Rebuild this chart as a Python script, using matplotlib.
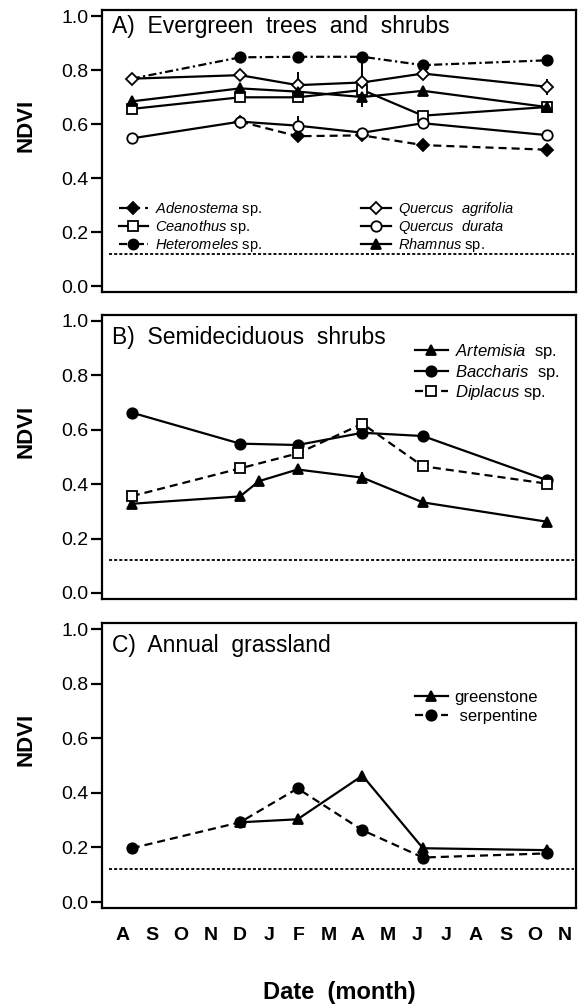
import numpy as np
import matplotlib
matplotlib.use('Agg')
import matplotlib.pyplot as plt
from matplotlib.lines import Line2D

plt.rcParams['font.family'] = ['Liberation Sans', 'DejaVu Sans']
plt.rcParams['mathtext.fontset'] = 'custom'
plt.rcParams['mathtext.rm'] = 'Liberation Sans'
plt.rcParams['mathtext.it'] = 'Liberation Sans:italic'
plt.rcParams['lines.scale_dashes'] = False

# month axis: A S O N D J F M A M J J A S O N  (0 = August)
months = ['A', 'S', 'O', 'N', 'D', 'J', 'F', 'M', 'A', 'M', 'J', 'J', 'A', 'S', 'O', 'N']
dates = [0.33, 4.0, 5.95, 8.15, 10.2, 14.4]
dates_art = [0.33, 4.0, 4.64, 5.95, 8.15, 10.2, 14.4]
soil_ndvi = 0.12

# A) evergreen trees and shrubs
adenostema = [np.nan, 0.609, 0.555, 0.558, 0.522, 0.505]
ceanothus = [0.656, 0.699, 0.699, 0.726, 0.631, 0.663]
heteromeles = [0.768, 0.847, 0.849, 0.849, 0.818, 0.836]
q_agrifolia = [0.768, 0.781, 0.744, 0.754, 0.787, 0.738]
q_agrifolia_err = [0, 0, 0.05, 0.09, 0, 0.03]
q_durata = [0.547, 0.609, 0.594, 0.568, 0.603, 0.559]
q_durata_err = [0, 0, 0.035, 0, 0, 0]
rhamnus = [0.684, 0.732, 0.72, 0.70, 0.723, 0.663]
rhamnus_err = [0, 0, 0, 0.025, 0, 0]

# B) semideciduous shrubs
artemisia = [0.328, 0.355, 0.411, 0.454, 0.424, 0.333, 0.262]
artemisia_err = [0, 0, 0, 0, 0.02, 0, 0]
baccharis = [0.663, 0.549, 0.544, 0.589, 0.577, 0.415]
diplacus = [0.356, 0.458, 0.513, 0.622, 0.466, 0.402]

# C) annual grassland
greenstone = [np.nan, 0.292, 0.303, 0.463, 0.197, 0.19]
serpentine = [0.197, 0.292, 0.416, 0.263, 0.163, 0.178]

DASH = (0, (5.8, 3.6))
DASHDOT = (0, (5.8, 2.4, 1.6, 2.4))
DOT = (0, (2.2, 1.5))
LW = 1.6
MS = 7.5

fig = plt.figure(figsize=(5.84, 10.06), dpi=100)
left, width = 0.1747, 0.8116
axA = fig.add_axes([left, 0.7097, width, 0.2803])
axB = fig.add_axes([left, 0.4046, width, 0.2823])
axC = fig.add_axes([left, 0.0974, width, 0.2833])


def style_axes(ax, title, title_y=0.92, show_x=False):
    ax.set_xlim(-0.68, 15.39)
    ax.set_ylim(-0.022, 1.022)
    ax.set_yticks(np.arange(0, 1.01, 0.2))
    ax.set_yticklabels([f'{v:.1f}' for v in np.arange(0, 1.01, 0.2)])
    ax.tick_params(axis='y', direction='out', length=8, width=1.6, labelsize=14, pad=2)
    ax.set_xticks(range(len(months)))
    if show_x:
        ax.set_xticklabels(months, fontsize=14, fontweight='bold')
    else:
        ax.set_xticklabels([])
    ax.tick_params(axis='x', length=0, pad=14)
    for s in ax.spines.values():
        s.set_linewidth(1.6)
    ax.set_ylabel('NDVI', fontsize=16, fontweight='bold')
    ax.yaxis.set_label_coords(-0.138, 0.59)
    ax.text(0.022, title_y, title, transform=ax.transAxes, fontsize=16.5, va='center', ha='left')
    ax.axhline(soil_ndvi, xmin=0.015, xmax=0.995, color='black', lw=1.3, linestyle=DOT)


def mk(ax, x, y, ls, marker, filled, label, ms=MS, yerr=None, markevery=None):
    fc = 'black' if filled else 'white'
    if yerr is not None:
        ax.errorbar(x, y, yerr=yerr, fmt='none', ecolor='black', elinewidth=1.4, capsize=0, zorder=2)
    return ax.plot(x, y, color='black', lw=LW, linestyle=ls, marker=marker, ms=ms,
                   mfc=fc, mec='black', mew=1.3, label=label, zorder=3, markevery=markevery)[0]


# panel A
style_axes(axA, 'A)  Evergreen  trees  and  shrubs', title_y=0.94)
mk(axA, dates, heteromeles, DASHDOT, 'o', True, None, markevery=slice(1, None))
h_ad = mk(axA, dates, adenostema, DASH, 'D', True, r'$\it{Adenostema}$ sp.', ms=6.5)
h_ce = mk(axA, dates, ceanothus, '-', 's', False, r'$\it{Ceanothus}$ sp.', ms=7)
h_qa = mk(axA, dates, q_agrifolia, '-', 'D', False, r'$\it{Quercus\ \ agrifolia}$', ms=6.5, yerr=q_agrifolia_err)
h_qd = mk(axA, dates, q_durata, '-', 'o', False, r'$\it{Quercus\ \ durata}$', yerr=q_durata_err)
h_rh = mk(axA, dates, rhamnus, '-', '^', True, r'$\it{Rhamnus}$ sp.', yerr=rhamnus_err)
h_he = Line2D([], [], color='black', lw=LW, linestyle=DASHDOT, marker='o', ms=MS, mfc='black', mec='black')
handlesA = [h_ad, h_ce, h_he, h_qa, h_qd, h_rh]
labelsA = [r'$\it{Adenostema}$ sp.', r'$\it{Ceanothus}$ sp.', r'$\it{Heteromeles}$ sp.',
           r'$\it{Quercus\ \ agrifolia}$', r'$\it{Quercus\ \ durata}$', r'$\it{Rhamnus}$ sp.']
axA.legend(handlesA, labelsA, ncol=2, loc='upper left',
           bbox_to_anchor=(0.035, 0.325), frameon=False,
           fontsize=10.5, handlelength=2.0, handletextpad=0.5, labelspacing=0.0,
           columnspacing=6.8, borderpad=0, borderaxespad=0)

# panel B
style_axes(axB, 'B)  Semideciduous  shrubs')
mk(axB, dates_art, artemisia, '-', '^', True, r'$\it{Artemisia}$  sp.', yerr=artemisia_err)
mk(axB, dates, baccharis, '-', 'o', True, r'$\it{Baccharis}$  sp.')
mk(axB, dates, diplacus, DASH, 's', False, r'$\it{Diplacus}$ sp.', ms=7)
axB.legend(loc='upper right', bbox_to_anchor=(0.965, 0.905), frameon=False,
           fontsize=12, handlelength=2.0, handletextpad=0.4, labelspacing=0.1,
           borderpad=0, borderaxespad=0)

# panel C
style_axes(axC, 'C)  Annual  grassland', show_x=True)
mk(axC, dates, greenstone, '-', '^', True, 'greenstone')
mk(axC, dates, serpentine, DASH, 'o', True, ' serpentine')
axC.legend(loc='upper right', bbox_to_anchor=(0.92, 0.765), frameon=False,
           fontsize=12, handlelength=2.0, handletextpad=0.4, labelspacing=0.25,
           borderpad=0, borderaxespad=0)
axC.set_xlabel('Date  (month)', fontsize=17, fontweight='bold', labelpad=26)

fig.savefig('out.png', dpi=100)
